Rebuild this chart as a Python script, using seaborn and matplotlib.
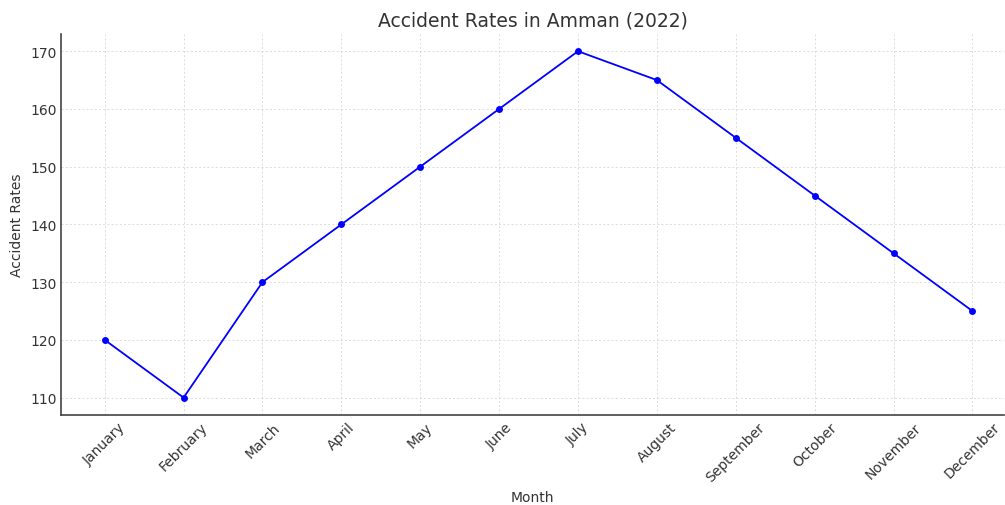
import matplotlib
matplotlib.use("Agg")
import matplotlib.pyplot as plt
import seaborn as sns
import pandas as pd

months = ["January", "February", "March", "April", "May", "June", "July",
          "August", "September", "October", "November", "December"]
accident_rates = [120, 110, 130, 140, 150, 160, 170, 165, 155, 145, 135, 125]

df = pd.DataFrame({"Month": months, "Accident Rates": accident_rates})

sns.set_style("white")
plt.rcParams["font.family"] = ["DejaVu Sans"]
plt.rcParams["text.color"] = "#333333"
plt.rcParams["axes.labelcolor"] = "#333333"
plt.rcParams["xtick.color"] = "#333333"
plt.rcParams["ytick.color"] = "#333333"

fig = plt.figure(figsize=(10.05, 5.06), dpi=100)
ax = fig.add_axes([0.061, 0.178, 0.938, 0.753])
sns.lineplot(x="Month", y="Accident Rates", data=df, color="blue", marker="o",
             markersize=5, markeredgewidth=0, linewidth=1.3, sort=False, ax=ax)

ax.set_title("Accident Rates in Amman (2022)", fontsize=13.5, color="#333333")
ax.set_xlabel("Month", fontsize=10)
ax.set_ylabel("Accident Rates", fontsize=10)
ax.set_xlim(-0.55, 11.4)
ax.set_ylim(107, 173)
ax.set_yticks([110, 120, 130, 140, 150, 160, 170])
ax.tick_params(axis="both", direction="in", length=4, labelsize=10)
plt.setp(ax.get_xticklabels(), rotation=45)
ax.grid(True, linestyle=(0, (3, 3)), linewidth=0.5, color="#d0d0d0")
for s in ["top", "right"]:
    ax.spines[s].set_visible(False)
for s in ["left", "bottom"]:
    ax.spines[s].set_color("#444444")
    ax.spines[s].set_linewidth(1.2)

fig.savefig("out.png", dpi=100)
